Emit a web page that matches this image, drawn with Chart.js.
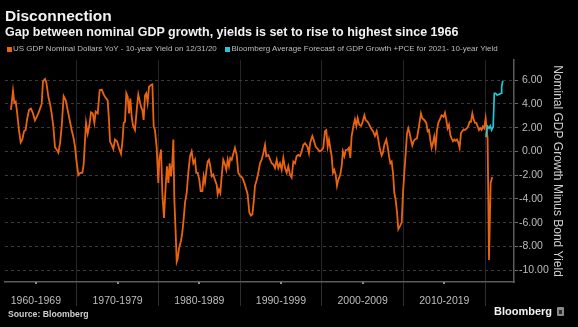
<!DOCTYPE html>
<html>
<head>
<meta charset="utf-8">
<script src="https://cdn.jsdelivr.net/npm/chart.js@4"></script>
<style>
  html, body { margin: 0; padding: 0; background: #000; }
  #wrap { position: relative; width: 578px; height: 327px; background: #000; overflow: hidden;
          font-family: "Liberation Sans", Arial, sans-serif; }
  #c { position: absolute; left: 0; top: 0; }
  .t { position: absolute; white-space: nowrap; line-height: 1; }
  .sq { position: absolute; width: 5px; height: 5px; }
  #logoIcon { position: absolute; left: 557px; top: 307px; width: 7px; height: 9px; background: #8a8a8a; border-radius: 1px; }
  #logoIcon i { position: absolute; left: 2px; top: 3px; width: 3px; height: 4px; background: #2a2a2a; }
</style>
</head>
<body>
<div id="wrap">
  <canvas id="c" width="578" height="327"></canvas>
  <div class="t" style="left:5px;top:7.6px;font-size:15.5px;font-weight:bold;color:#f2f2f2;">Disconnection</div>
  <div class="t" style="left:5px;top:26.1px;font-size:12.5px;font-weight:bold;color:#f2f2f2;">Gap between nominal GDP growth, yields is set to rise to highest since 1966</div>
  <div class="sq" style="left:7px;top:47px;background:#ea640f;"></div>
  <div class="t" style="left:13px;top:45.4px;font-size:8px;color:#bdbdbd;">US GDP Nominal Dollars YoY - 10-year Yield on 12/31/20</div>
  <div class="sq" style="left:225px;top:47px;background:#1ec8d8;"></div>
  <div class="t" style="left:231.5px;top:45.4px;font-size:8px;color:#bdbdbd;">Bloomberg Average Forecast of GDP Growth +PCE for 2021- 10-year Yield</div>
  <div class="t" style="left:8px;top:309.7px;font-size:8.7px;font-weight:bold;color:#cfcfcf;">Source: Bloomberg</div>
  <div class="t" style="left:494px;top:306.2px;font-size:11px;font-weight:bold;color:#f2f2f2;">Bloomberg</div>
  <div id="logoIcon"><i></i></div>
</div>
<script>
// US nominal GDP growth YoY minus the 10-year yield, by fractional year
const gapYears = [
  1961.95, 1962.20, 1962.36, 1962.53, 1962.69, 1962.93, 1963.14, 1963.34, 1963.55, 1963.75,
  1963.91, 1964.16, 1964.40, 1964.65, 1964.89, 1965.10, 1965.30, 1965.51, 1965.71, 1965.87,
  1966.12, 1966.28, 1966.53, 1966.73, 1966.93, 1967.14, 1967.34, 1967.55, 1967.75, 1967.96,
  1968.16, 1968.40, 1968.65, 1968.89, 1969.18, 1969.38, 1969.59, 1969.79, 1969.95, 1970.20,
  1970.44, 1970.69, 1970.85, 1971.02, 1971.14, 1971.34, 1971.55, 1971.75, 1971.96, 1972.16,
  1972.32, 1972.57, 1972.81, 1973.06, 1973.30, 1973.46, 1973.79, 1973.95, 1974.07, 1974.28,
  1974.48, 1974.68, 1974.93, 1975.17, 1975.42, 1975.58, 1975.75, 1975.91, 1976.07, 1976.24,
  1976.40, 1976.56, 1976.73, 1976.89, 1977.13, 1977.38, 1977.54, 1977.70, 1977.87, 1978.03,
  1978.19, 1978.36, 1978.52, 1978.68, 1978.85, 1979.09, 1979.26, 1979.42, 1979.58, 1979.79,
  1979.99, 1980.11, 1980.32, 1980.48, 1980.68, 1980.89, 1981.05, 1981.22, 1981.38, 1981.54,
  1981.70, 1981.83, 1981.95, 1982.11, 1982.24, 1982.36, 1982.52, 1982.77, 1982.93, 1983.09,
  1983.26, 1983.46, 1983.66, 1983.87, 1984.07, 1984.28, 1984.48, 1984.64, 1984.81, 1985.01,
  1985.17, 1985.38, 1985.54, 1985.70, 1985.90, 1986.03, 1986.19, 1986.35, 1986.52, 1986.72,
  1986.92, 1987.13, 1987.25, 1987.41, 1987.58, 1987.74, 1987.94, 1988.15, 1988.31, 1988.48,
  1988.64, 1988.80, 1988.97, 1989.13, 1989.37, 1989.58, 1989.78, 1990.03, 1990.27, 1990.52,
  1990.76, 1990.92, 1991.13, 1991.33, 1991.50, 1991.66, 1991.82, 1992.03, 1992.23, 1992.43,
  1992.64, 1992.84, 1993.05, 1993.21, 1993.46, 1993.66, 1993.86, 1994.07, 1994.27, 1994.48,
  1994.68, 1994.88, 1995.09, 1995.29, 1995.50, 1995.70, 1995.90, 1996.11, 1996.31, 1996.52,
  1996.72, 1996.92, 1997.13, 1997.33, 1997.54, 1997.74, 1997.94, 1998.15, 1998.27, 1998.43,
  1998.59, 1998.84, 1999.00, 1999.25, 1999.49, 1999.74, 1999.98, 2000.18, 2000.39, 2000.55,
  2000.72, 2000.88, 2001.04, 2001.21, 2001.37, 2001.53, 2001.70, 2001.86, 2002.02, 2002.27,
  2002.43, 2002.59, 2002.76, 2002.92, 2003.16, 2003.33, 2003.49, 2003.65, 2003.86, 2004.06,
  2004.23, 2004.39, 2004.59, 2004.80, 2004.96, 2005.21, 2005.37, 2005.61, 2005.78, 2006.02,
  2006.27, 2006.51, 2006.72, 2006.92, 2007.08, 2007.33, 2007.49, 2007.65, 2007.90, 2008.06,
  2008.23, 2008.39, 2008.55, 2008.72, 2008.88, 2009.04, 2009.21, 2009.37, 2009.57, 2009.78,
  2009.94, 2010.10, 2010.27, 2010.43, 2010.59, 2010.75, 2010.91, 2011.08, 2011.24, 2011.40,
  2011.65, 2011.89, 2012.14, 2012.30, 2012.55, 2012.79, 2012.96, 2013.12, 2013.28, 2013.45,
  2013.61, 2013.77, 2013.94, 2014.10, 2014.26, 2014.43, 2014.67, 2014.91, 2015.08, 2015.24,
  2015.40, 2015.57, 2015.73, 2015.89, 2016.06, 2016.22, 2016.38, 2016.55, 2016.71, 2016.87,
  2017.04, 2017.20, 2017.36, 2017.53, 2017.77, 2017.94, 2018.10, 2018.26, 2018.43, 2018.59,
  2018.75, 2018.92, 2019.08, 2019.24, 2019.40, 2019.57, 2019.73, 2019.89, 2020.06, 2020.18,
  2020.30, 2020.47, 2020.67, 2020.87
];
const gapValues = [
  3.5, 5.1, 4.1, 4.2, 3.35, 1.8, 0.75, 1.0, 1.7, 1.8,
  2.65, 3.5, 3.6, 3.2, 2.6, 2.9, 3.2, 3.6, 4.0, 5.9,
  6.1, 5.8, 4.6, 4.0, 3.2, 2.1, 0.35, 0.15, -0.1, 0.7,
  2.1, 4.65, 4.3, 3.5, 2.5, 1.8, 1.2, 0.4, -0.7, -2.0,
  -1.8, -1.8, -1.1, 1.0, 2.4, 1.5, 2.2, 3.3, 3.2, 2.4,
  3.35, 3.2, 5.15, 5.2, 4.8, 4.6, 4.3, 2.65, 0.85, 0.55,
  0.2, 1.0, 0.85, 0.3, -0.2, 0.7, 2.4, 2.5, 4.9, 4.6,
  3.2, 4.45, 2.9, 2.2, 1.8, 3.75, 4.8, 4.3, 3.75, 3.5,
  2.65, 4.7, 4.9, 4.1, 5.45, 5.6, 5.65, 2.1, 1.8, 0.3,
  -2.65, -0.7, 0.15, -3.5, -5.6, -2.9, -1.25, -2.65, -1.0, -2.1,
  -1.0, 1.0, -4.05, -6.8, -9.3, -9.05, -8.2, -7.5, -6.8, -5.7,
  -4.3, -3.5, -1.8, -0.4, 0.0, -1.0, -0.7, -1.8, -1.8, -2.4,
  -3.35, -3.35, -2.1, -2.65, -1.5, -0.85, -0.7, -1.25, -2.1, -1.95,
  -2.4, -2.8, -3.6, -3.2, -3.5, -2.1, -0.7, -1.1, -1.55, -0.7,
  -1.25, -0.55, -0.7, -0.3, 0.3, -0.3, -1.8, -2.1, -2.2, -2.65,
  -3.2, -3.6, -5.15, -5.4, -5.3, -4.3, -2.9, -2.4, -1.8, -1.0,
  -0.7, -0.15, 0.55, -0.4, -0.3, -0.65, -1.0, -1.1, -1.4, -0.7,
  -1.4, -1.0, -1.55, -0.55, -1.4, -1.8, -1.25, -1.95, -2.2, -0.85,
  -1.0, -0.4, -0.3, -0.4, 0.0, 0.55, 0.7, 0.5, 0.35, -0.15,
  0.75, 1.3, 1.0, 0.4, 0.2, 0.0, 0.1, 0.3, 1.7, 1.8,
  0.4, 1.0, 0.3, -0.4, -1.8, -1.55, -1.95, -2.9, -2.4, -1.95,
  -1.25, 0.0, -0.4, 0.1, 0.15, 0.3, -0.55, 1.25, 2.1, 2.7,
  2.15, 2.8, 2.25, 2.15, 2.4, 3.05, 2.65, 2.5, 2.3, 1.95,
  1.7, 1.3, 1.7, 1.0, 0.3, -0.35, -0.1, 0.55, 1.0, 0.4,
  -0.4, -1.0, -0.85, -1.8, -3.5, -4.05, -5.15, -6.55, -6.3, -6.0,
  -3.5, -1.8, -0.15, 1.5, 1.95, 1.55, 1.0, 0.5, 0.85, 1.0,
  1.1, 2.1, 3.2, 2.8, 2.65, 2.4, 1.7, 1.8, 1.0, 0.3,
  0.7, 1.25, 0.4, 1.8, 2.4, 2.65, 3.05, 2.9, 3.25, 2.65,
  1.95, 2.25, 1.4, 1.1, 0.85, 1.0, 0.9, 1.0, 0.75, 0.3,
  1.55, 1.7, 1.85, 1.8, 1.95, 2.15, 2.5, 2.5, 3.2, 2.7,
  2.4, 2.4, 2.1, 1.8, 1.95, 1.8, 2.1, 1.95, 2.8, 1.95,
  1.0, -9.15, -2.65, -2.15
];

// Forecast path: GDP growth + PCE for 2021 minus the 10-year yield
const forecastYears = [2020.10, 2020.18, 2020.30, 2020.47, 2020.63, 2020.79, 2020.98, 2021.12, 2021.28, 2021.45, 2021.69, 2021.94, 2022.02, 2022.16];
const forecastValues = [1.2, 1.7, 2.1, 1.95, 2.15, 1.8, 2.1, 4.9, 4.9, 4.75, 4.8, 4.9, 5.45, 5.95];

// Decade bands along the time axis (labels sit at each band's centre)
const decadeCentres = [1965, 1975, 1985, 1995, 2005, 2015];
const decadeLabels = ['1960-1969', '1970-1979', '1980-1989', '1990-1999', '2000-2009', '2010-2019'];
const yTickValues = [-10, -8, -6, -4, -2, 0, 2, 4, 6];

const FONT = '"Liberation Sans", Arial, sans-serif';

const toPoints = (xs, ys) => xs.map((x, i) => ({ x: x, y: ys[i] }));

// Small marks on the time axis at the middle of each decade
const midDecadeMarks = {
  id: 'midDecadeMarks',
  afterDraw(chart) {
    const x = chart.scales.x;
    const ctx = chart.ctx;
    ctx.save();
    ctx.fillStyle = '#8a8a8a';
    decadeCentres.forEach(v => {
      const px = Math.round(x.getPixelForValue(v));
      ctx.fillRect(px - 1, x.top, 2, 2);
    });
    ctx.restore();
  }
};

new Chart(document.getElementById('c'), {
  type: 'line',
  data: {
    datasets: [
      {
        label: 'Bloomberg Average Forecast of GDP Growth +PCE for 2021- 10-year Yield',
        data: toPoints(forecastYears, forecastValues),
        borderColor: '#1ec8d8',
        borderWidth: 1.7,
        pointRadius: 0,
        tension: 0,
        order: 0
      },
      {
        label: 'US GDP Nominal Dollars YoY - 10-year Yield on 12/31/20',
        data: toPoints(gapYears, gapValues),
        borderColor: '#ea640f',
        borderWidth: 1.8,
        pointRadius: 0,
        tension: 0,
        order: 1
      }
    ]
  },
  options: {
    responsive: false,
    animation: false,
    events: [],
    layout: { padding: { top: 60, left: 5, right: 0, bottom: 0 } },
    plugins: { legend: { display: false }, tooltip: { enabled: false } },
    scales: {
      x: {
        type: 'linear',
        min: 1961.22,
        max: 2023.53,
        afterBuildTicks: (s) => { s.ticks = decadeCentres.map(v => ({ value: v })); },
        afterFit: (s) => { s.height = 45; },
        grid: { offset: true, color: '#262626', lineWidth: 1, drawTicks: true, tickLength: 24, tickColor: '#2e2e2e' },
        border: { display: true, color: '#5c5c5c', width: 1.5 },
        ticks: {
          autoSkip: false, maxRotation: 0, minRotation: 0, padding: -11,
          color: '#bdbdbd', font: { family: FONT, size: 10.5 },
          callback: (v, i) => decadeLabels[i]
        }
      },
      y: {
        position: 'right',
        min: -11,
        max: 7.7,
        afterBuildTicks: (s) => { s.ticks = yTickValues.map(v => ({ value: v })); },
        afterFit: (s) => { s.width = 64; },
        grid: { color: '#3a3a3a', lineWidth: 1, drawTicks: true, tickLength: 4, tickColor: '#6a6a6a' },
        border: { display: true, color: '#5c5c5c', width: 1.5, dash: [3, 3] },
        ticks: {
          padding: 1, color: '#bdbdbd', font: { family: FONT, size: 10.5 },
          callback: (v) => (v < 0 ? '' : ' ') + Number(v).toFixed(2)
        },
        title: {
          display: true,
          text: 'Nominal GDP Growth Minus Bond Yield',
          color: '#cfcfcf',
          font: { family: FONT, size: 12 },
          padding: { top: 13, bottom: 0 }
        }
      }
    }
  },
  plugins: [midDecadeMarks]
});
</script>
</body>
</html>
